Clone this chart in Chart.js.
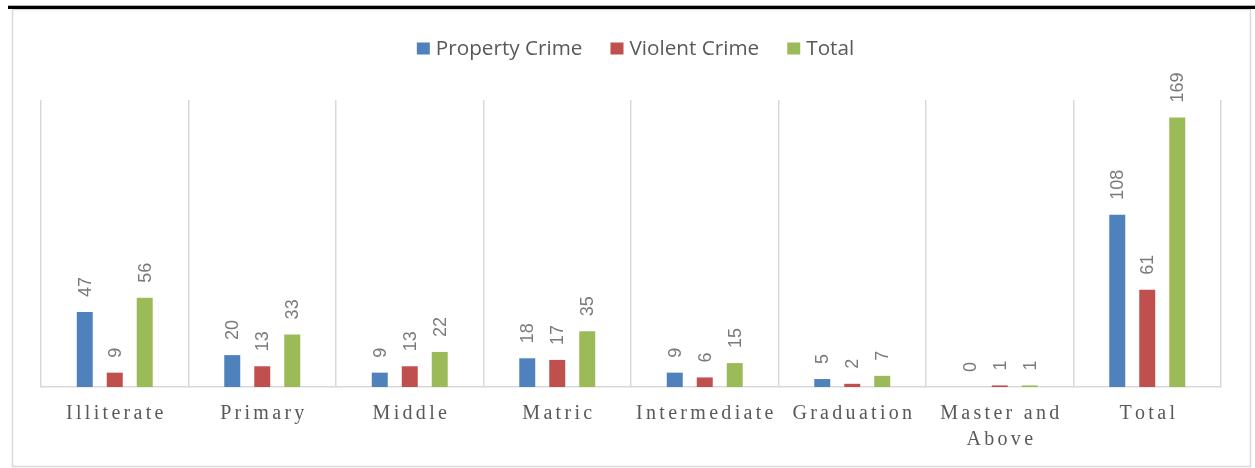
<!DOCTYPE html>
<html><head><meta charset="utf-8">
<script src="https://cdn.jsdelivr.net/npm/chart.js@4.4.1/dist/chart.umd.min.js"></script>
<style>html,body{margin:0;padding:0;background:#fff;overflow:hidden}canvas{display:block}</style>
</head><body>
<canvas id="c" width="1255" height="468"></canvas>
<script>
const categories = ['Illiterate','Primary','Middle','Matric','Intermediate','Graduation',['Master and','Above'],'Total'];
const propertyCrime = [47,20,9,18,9,5,0,108];
const violentCrime = [9,13,13,17,6,2,1,61];
const totalCrime = [56,33,22,35,15,7,1,169];
const seriesNames = ['Property Crime','Violent Crime','Total'];
const seriesColors = ['#4F81BD','#C0504D','#9BBB59'];
const yMin = 0, yMax = 180;

function drawSpaced(ctx, text, cx, y, ls) {
  const chars = Array.from(text);
  const ws = chars.map(ch => ctx.measureText(ch).width);
  const total = ws.reduce((a,b)=>a+b,0) + ls*(chars.length-1);
  let x = cx - total/2;
  ctx.textAlign = 'left';
  chars.forEach((ch,i) => { ctx.fillText(ch, x, y); x += ws[i] + ls; });
}

const framePlugin = {
  id: 'frame',
  beforeDraw(chart) {
    const ctx = chart.ctx;
    ctx.save();
    ctx.fillStyle = '#ffffff';
    ctx.fillRect(0,0,chart.width,chart.height);
    ctx.strokeStyle = '#d9d9d9';
    ctx.lineWidth = 1.5;
    ctx.strokeRect(12.5, 9.5, 1238, 457);
    ctx.fillStyle = '#000000';
    ctx.fillRect(8, 5.7, 1247, 3.3);
    ctx.restore();
  }
};

const valueLabelPlugin = {
  id: 'valueLabels',
  afterDatasetsDraw(chart) {
    const ctx = chart.ctx;
    ctx.save();
    ctx.font = '18px "Liberation Sans", Arial, sans-serif';
    ctx.fillStyle = '#7a7a7a';
    ctx.textAlign = 'left';
    ctx.textBaseline = 'middle';
    chart.data.datasets.forEach((ds, di) => {
      const meta = chart.getDatasetMeta(di);
      meta.data.forEach((el, i) => {
        ctx.save();
        ctx.translate(el.x, el.y - 15);
        ctx.rotate(-Math.PI/2);
        ctx.fillText(String(ds.data[i]), 0, 1);
        ctx.restore();
      });
    });
    ctx.restore();
  }
};

const catLabelPlugin = {
  id: 'catLabels',
  afterDraw(chart) {
    const ctx = chart.ctx;
    const xs = chart.scales.x;
    ctx.save();
    ctx.font = '20px "Liberation Serif", "Times New Roman", serif';
    ctx.fillStyle = '#595959';
    ctx.textBaseline = 'middle';
    chart.data.labels.forEach((lab, i) => {
      const cx = xs.getPixelForValue(i);
      const lines = Array.isArray(lab) ? lab : [lab];
      lines.forEach((ln, k) => drawSpaced(ctx, ln, cx, 414 + k*26, 3.3));
    });
    ctx.restore();
  }
};

const legendPlugin = {
  id: 'customLegend',
  afterDraw(chart) {
    const ctx = chart.ctx;
    ctx.save();
    ctx.font = '20.7px "Open Sans", sans-serif';
    const box = 13, gap = 6, itemGap = 28;
    const items = chart.data.datasets.map(ds => ({label: ds.label, color: ds.backgroundColor, w: ctx.measureText(ds.label).width}));
    const total = items.reduce((a,it)=>a+box+gap+it.w,0) + itemGap*(items.length-1);
    let x = 635.5 - total/2;
    ctx.textBaseline = 'alphabetic';
    ctx.textAlign = 'left';
    items.forEach(it => {
      ctx.fillStyle = it.color;
      ctx.fillRect(x, 42.5, box, 12);
      ctx.fillStyle = '#595959';
      ctx.fillText(it.label, x + box + gap, 54.5);
      x += box + gap + it.w + itemGap;
    });
    ctx.restore();
  }
};

const datasets = [propertyCrime, violentCrime, totalCrime].map((d, i) => ({
  label: seriesNames[i],
  data: d,
  backgroundColor: seriesColors[i],
  borderWidth: 0,
  categoryPercentage: 0.61,
  barPercentage: 0.533
}));

new Chart(document.getElementById('c'), {
  type: 'bar',
  data: { labels: categories, datasets },
  options: {
    responsive: false,
    devicePixelRatio: 1,
    animation: false,
    layout: { padding: { left: 41, right: 34, top: 100, bottom: 81 } },
    plugins: { legend: { display: false }, tooltip: { enabled: false } },
    scales: {
      x: {
        grid: { offset: true, color: '#d9d9d9', lineWidth: 1.5, drawTicks: false },
        border: { color: '#d9d9d9', width: 1.5 },
        ticks: { display: false }
      },
      y: { display: false, min: yMin, max: yMax }
    }
  },
  plugins: [framePlugin, valueLabelPlugin, catLabelPlugin, legendPlugin]
});
</script>
</body></html>
